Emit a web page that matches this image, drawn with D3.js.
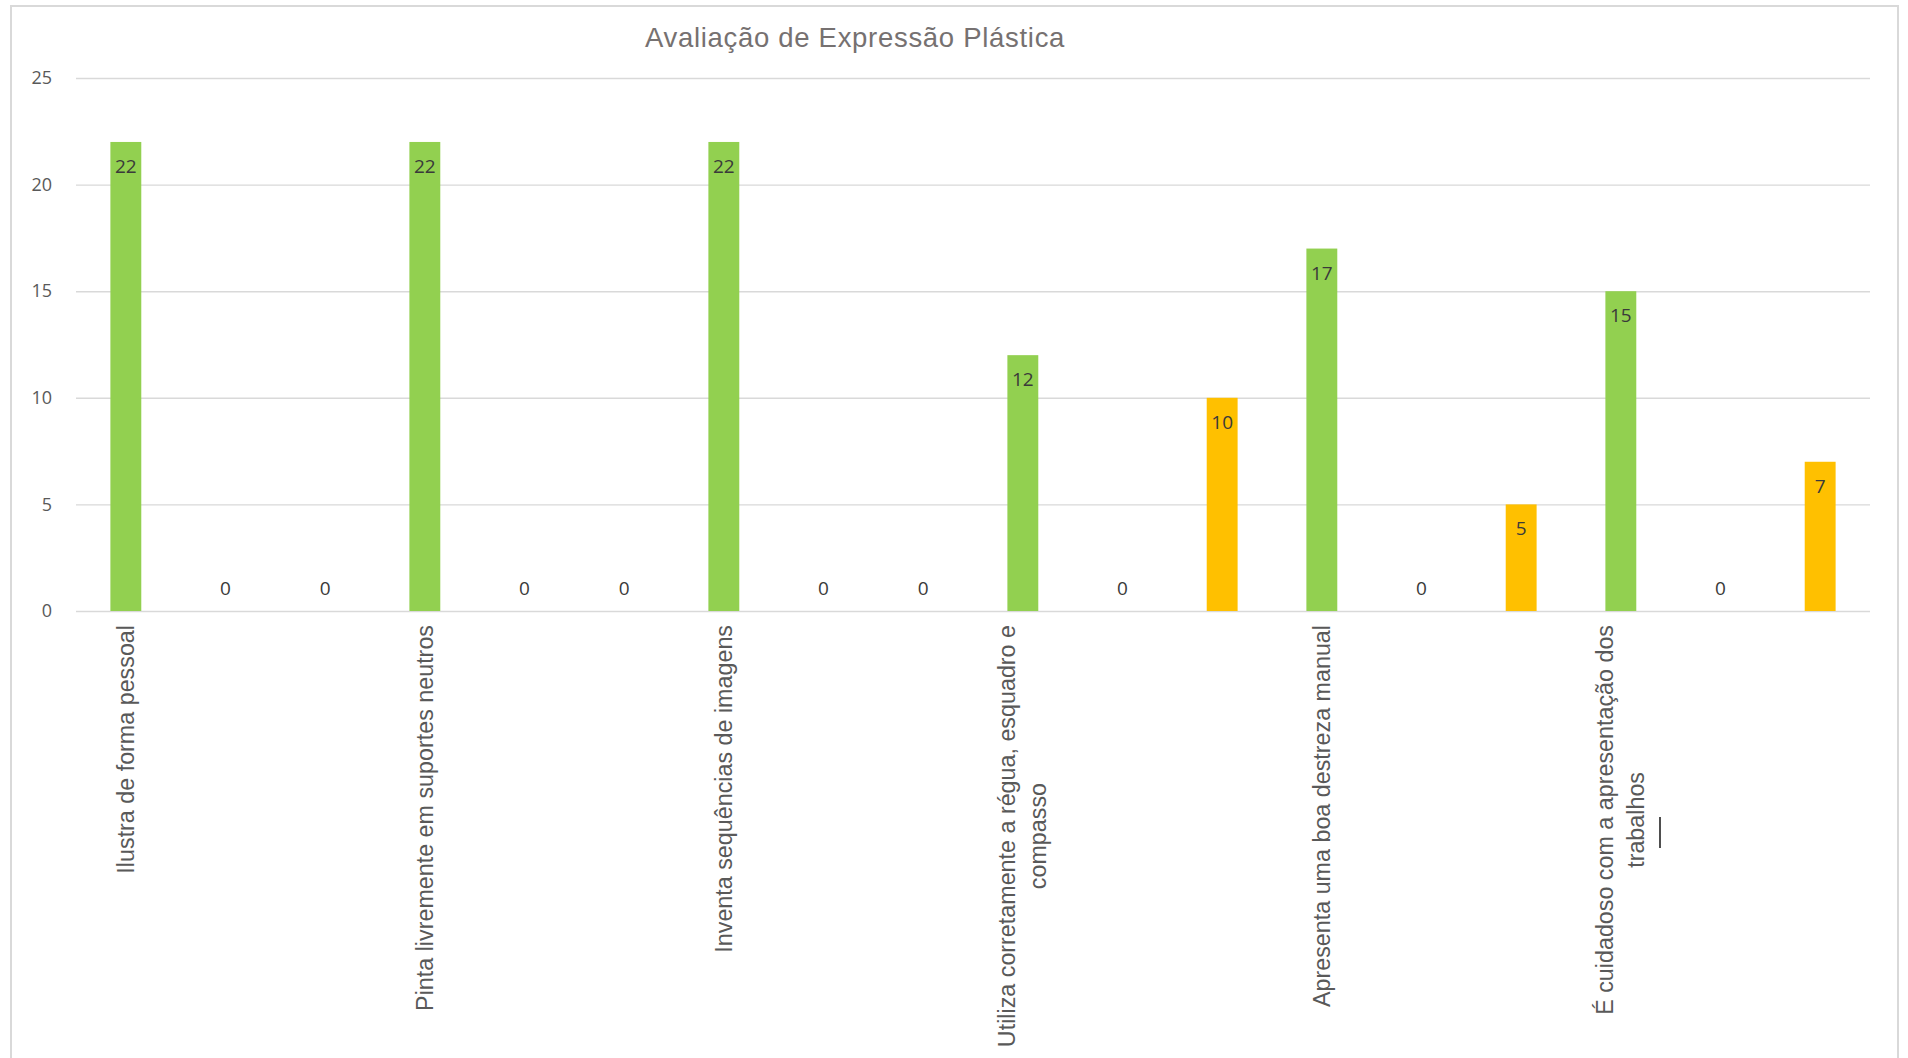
<!DOCTYPE html>
<html>
<head>
<meta charset="utf-8">
<script src="https://cdn.jsdelivr.net/npm/d3@7"></script>
<style>
  html, body { margin: 0; padding: 0; background: #ffffff; }
  svg { display: block; }
</style>
</head>
<body>
<svg id="chart" width="1908" height="1058"></svg>
<script>
// Categories (explicit line breaks for the wrapped axis labels)
const categories = [
  "Ilustra de forma pessoal",
  "Pinta livremente em suportes neutros",
  "Inventa sequências de imagens",
  "Utiliza corretamente a régua, esquadro e\ncompasso",
  "Apresenta uma boa destreza manual",
  "É cuidadoso com a apresentação dos\ntrabalhos"
];

const seriesNames = ["Adquirido", "Em aquisição", "Não adquirido"];
const adquirido    = [22, 22, 22, 12, 17, 15];
const emAquisicao  = [0, 0, 0, 0, 0, 0];
const naoAdquirido = [0, 0, 0, 10, 5, 7];
const seriesColors = ["#92d050", "#5b9bd5", "#ffc000"];
const yTicks = [0, 5, 10, 15, 20, 25];

const series = [adquirido, emAquisicao, naoAdquirido];

const svg = d3.select("#chart");
const W = 1908, H = 1058;

svg.append("rect").attr("width", W).attr("height", H).attr("fill", "#ffffff");

// chart frame
svg.append("rect")
  .attr("x", 11).attr("y", 6)
  .attr("width", 1887).attr("height", H + 20)
  .attr("fill", "none")
  .attr("stroke", "#d9d9d9")
  .attr("stroke-width", 2);

const plot = { left: 76, right: 1870, top: 78, bottom: 611 };

const x = d3.scaleBand()
  .domain(d3.range(categories.length))
  .range([plot.left, plot.right])
  .padding(0);

const xs = d3.scaleBand()
  .domain(d3.range(seriesNames.length))
  .range([0, x.bandwidth()])
  .padding(0);

const y = d3.scaleLinear()
  .domain([0, 25])
  .range([plot.bottom, plot.top]);

// title
svg.append("text")
  .attr("x", 855).attr("y", 47)
  .attr("text-anchor", "middle")
  .attr("font-family", "'Liberation Sans', Arial, sans-serif")
  .attr("font-size", 27.5)
  .attr("letter-spacing", 0.7)
  .attr("fill", "#767171")
  .text("Avaliação de Expressão Plástica");

// gridlines + y labels via axis
const yAxis = d3.axisLeft(y)
  .tickValues(yTicks)
  .tickSize(-(plot.right - plot.left))
  .tickPadding(24)
  .tickFormat(d3.format("d"));

const gy = svg.append("g")
  .attr("transform", `translate(${plot.left},0)`)
  .call(yAxis);
gy.select(".domain").remove();
gy.selectAll(".tick line")
  .attr("stroke", "#d9d9d9")
  .attr("stroke-width", 1.4);
gy.selectAll(".tick text")
  .attr("font-family", "'Open Sans', sans-serif")
  .attr("font-size", 18)
  .attr("fill", "#595959");

// bars
const barW = xs.bandwidth() * 0.31;
const flat = [];
series.forEach((vals, s) => {
  vals.forEach((v, c) => flat.push({ c, s, v }));
});

const cx = d => x(d.c) + xs(d.s) + xs.bandwidth() / 2;

svg.append("g").selectAll("rect")
  .data(flat)
  .join("rect")
  .attr("x", d => cx(d) - barW / 2)
  .attr("y", d => y(d.v))
  .attr("width", barW)
  .attr("height", d => y(0) - y(d.v))
  .attr("fill", d => seriesColors[d.s]);

// data labels
svg.append("g").selectAll("text")
  .data(flat)
  .join("text")
  .attr("x", d => cx(d))
  .attr("y", d => d.v > 0 ? y(d.v) + 24 : y(0) - 23)
  .attr("text-anchor", "middle")
  .attr("dominant-baseline", "central")
  .attr("font-family", "'Open Sans', sans-serif")
  .attr("font-size", 19)
  .attr("font-weight", 500)
  .attr("fill", "#3a3a3a")
  .text(d => d.v);

// category labels, rotated, aligned under the first bar of each group
const lineH = 31;
const catG = svg.append("g").selectAll("g")
  .data(categories)
  .join("g")
  .attr("transform", (d, i) => `translate(${x(i) + xs(0) + xs.bandwidth() / 2},625) rotate(-90)`);

catG.each(function (d) {
  const g = d3.select(this);
  const lines = d.split("\n");
  const texts = lines.map((ln, k) => g.append("text")
    .attr("y", (k - (lines.length - 1) / 2) * lineH)
    .attr("dominant-baseline", "central")
    .attr("text-anchor", "middle")
    .attr("font-family", "'Liberation Sans', Arial, sans-serif")
    .attr("font-size", 23.3)
    .attr("fill", "#595959")
    .text(ln));
  const maxLen = d3.max(texts, t => t.node().getComputedTextLength());
  texts.forEach(t => t.attr("x", -maxLen / 2));
});

// text caret beside the last label
svg.append("line")
  .attr("x1", 1660).attr("x2", 1660)
  .attr("y1", 817).attr("y2", 848)
  .attr("stroke", "#222222")
  .attr("stroke-width", 1.6);
</script>
</body>
</html>
